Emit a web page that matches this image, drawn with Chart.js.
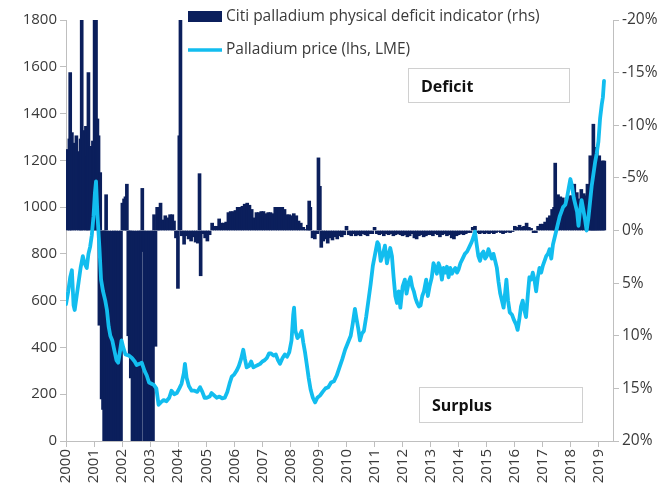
<!DOCTYPE html>
<html><head><meta charset="utf-8">
<script src="https://cdn.jsdelivr.net/npm/chart.js@4.4.1/dist/chart.umd.min.js"></script>
<style>html,body{margin:0;padding:0;background:#fff;}</style>
</head><body>
<canvas id="c" width="665" height="489"></canvas>
<script>
const deficitLabel = 'Citi palladium physical deficit indicator (rhs)';
const priceLabel = 'Palladium price (lhs, LME)';
const boxLabels = ['Deficit', 'Surplus'];
const yearTicks = [2000,2001,2002,2003,2004,2005,2006,2007,2008,2009,2010,2011,2012,2013,2014,2015,2016,2017,2018,2019];
const leftTicks = [0,200,400,600,800,1000,1200,1400,1600,1800];
const rightTicks = [-20,-15,-10,-5,0,5,10,15,20];

const priceDates = [2000.00,2000.08,2000.15,2000.21,2000.27,2000.31,2000.38,2000.45,2000.52,2000.60,2000.66,2000.74,2000.80,2000.86,2000.92,2000.98,
2001.03,2001.07,2001.12,2001.19,2001.25,2001.32,2001.40,2001.46,2001.52,2001.58,2001.65,2001.72,2001.80,2001.86,2001.92,2001.98,
2002.04,2002.12,2002.25,2002.35,2002.45,2002.52,2002.62,2002.70,2002.80,2002.88,2002.96,2003.05,2003.13,2003.22,2003.30,2003.38,2003.48,2003.58,2003.68,2003.76,2003.86,2003.95,
2004.04,2004.12,2004.20,2004.24,2004.30,2004.38,2004.48,2004.58,2004.68,2004.78,2004.86,2004.94,2005.02,2005.12,2005.19,2005.28,2005.37,2005.47,2005.57,2005.66,2005.75,2005.83,2005.91,
2006.00,2006.08,2006.16,2006.24,2006.32,2006.38,2006.44,2006.52,2006.60,2006.68,2006.76,2006.84,2006.92,2007.00,2007.08,2007.16,2007.24,2007.30,2007.40,2007.48,2007.56,2007.63,2007.72,2007.80,2007.88,2007.96,
2008.04,2008.10,2008.13,2008.18,2008.25,2008.32,2008.40,2008.46,2008.52,2008.58,2008.65,2008.72,2008.80,2008.88,2008.96,2009.06,2009.15,2009.25,2009.35,2009.45,2009.55,2009.65,2009.75,2009.85,2009.95,
2010.05,2010.15,2010.22,2010.30,2010.36,2010.42,2010.48,2010.55,2010.62,2010.70,2010.78,2010.86,2010.94,2011.02,2011.10,2011.15,2011.22,2011.30,2011.37,2011.44,2011.50,2011.56,2011.62,2011.68,2011.74,2011.80,2011.86,2011.92,
2012.00,2012.08,2012.14,2012.22,2012.28,2012.34,2012.40,2012.46,2012.52,2012.58,2012.64,2012.70,2012.76,2012.84,2012.90,2012.96,2013.04,2013.10,2013.16,2013.22,2013.28,2013.34,2013.40,2013.46,2013.52,2013.58,2013.64,2013.70,2013.76,2013.82,2013.88,2013.94,
2014.00,2014.06,2014.14,2014.22,2014.30,2014.38,2014.46,2014.52,2014.58,2014.64,2014.70,2014.76,2014.82,2014.88,2014.94,2015.00,2015.06,2015.12,2015.18,2015.24,2015.30,2015.36,2015.42,2015.48,2015.54,2015.60,2015.66,2015.70,2015.76,2015.82,2015.90,2015.96,
2016.04,2016.10,2016.16,2016.22,2016.28,2016.34,2016.40,2016.46,2016.52,2016.58,2016.64,2016.70,2016.76,2016.82,2016.88,2016.94,2017.00,2017.06,2017.12,2017.18,2017.24,2017.30,2017.36,2017.42,2017.48,2017.54,2017.60,2017.66,2017.72,2017.80,2017.86,2017.92,2017.98,
2018.04,2018.10,2018.16,2018.22,2018.27,2018.32,2018.38,2018.44,2018.50,2018.56,2018.62,2018.68,2018.74,2018.80,2018.86,2018.92,2018.98,2019.04,2019.10,2019.14,2019.18];
const priceValues = [585,640,700,730,580,560,620,680,740,790,760,740,800,830,880,960,
1060,1110,970,830,690,640,600,560,490,450,430,390,345,335,380,430,
400,370,365,355,340,325,330,335,300,280,250,245,240,225,155,165,175,170,185,215,200,205,
225,245,290,330,270,235,215,215,210,230,210,185,185,190,205,195,185,190,182,185,210,245,275,
285,300,320,350,390,350,315,320,340,315,320,325,330,340,345,355,375,375,365,370,345,330,355,370,360,380,
430,540,570,470,440,450,470,420,380,330,270,220,185,165,185,195,210,225,230,250,255,280,315,350,390,
420,450,500,565,520,480,430,460,470,530,600,670,750,800,850,840,770,800,835,760,795,825,790,700,620,590,640,570,
660,690,630,680,700,660,640,610,590,575,580,620,640,690,620,660,700,760,740,715,760,740,690,740,720,745,700,740,715,730,740,720,
735,760,780,800,810,830,850,870,895,840,790,770,800,810,780,790,820,800,780,800,770,740,680,630,600,570,640,690,600,550,540,520,
500,475,520,575,600,560,530,620,700,690,720,690,640,700,740,720,750,770,790,800,820,780,840,870,900,930,960,980,1000,1010,1040,1080,1120,
1090,1040,1010,980,920,980,1030,990,950,900,950,1020,1090,1140,1190,1230,1280,1380,1440,1470,1540];

const deficitDates = [2000.04,2000.12,2000.15,2000.21,2000.29,2000.37,2000.46,2000.52,2000.56,2000.62,2000.71,2000.76,2000.80,2000.87,2000.96,
2001.02,2001.07,2001.12,2001.16,2001.19,2001.22,2001.27,2001.32,2001.36,2001.40,2001.43,2001.47,2001.54,2001.62,2001.71,2001.79,2001.87,2001.96,
2002.01,2002.07,2002.12,2002.17,2002.22,2002.27,2002.31,2002.37,2002.44,2002.52,2002.60,2002.67,2002.72,2002.76,2002.81,2002.88,2002.96,
2003.04,2003.10,2003.14,2003.19,2003.25,2003.30,2003.37,2003.46,2003.54,2003.62,2003.71,2003.79,2003.85,2003.92,2003.99,
2004.04,2004.08,2004.13,2004.21,2004.29,2004.37,2004.46,2004.54,2004.62,2004.70,2004.76,2004.80,2004.87,2004.96,
2005.04,2005.12,2005.21,2005.29,2005.37,2005.46,2005.54,2005.62,2005.71,2005.79,2005.87,2005.96,
2006.04,2006.12,2006.21,2006.29,2006.37,2006.46,2006.54,2006.62,2006.71,2006.79,2006.87,2006.96,
2007.04,2007.12,2007.21,2007.29,2007.37,2007.46,2007.54,2007.62,2007.71,2007.79,2007.87,2007.96,
2008.04,2008.12,2008.21,2008.29,2008.37,2008.46,2008.54,2008.62,2008.67,2008.71,2008.79,2008.87,2008.96,
2009.00,2009.05,2009.10,2009.17,2009.25,2009.33,2009.42,2009.50,2009.58,2009.67,2009.75,2009.83,2009.92,
2010.00,2010.08,2010.17,2010.25,2010.33,2010.42,2010.50,2010.58,2010.67,2010.75,2010.83,2010.92,
2011.00,2011.08,2011.17,2011.25,2011.33,2011.42,2011.50,2011.58,2011.67,2011.75,2011.83,2011.92,
2012.00,2012.08,2012.17,2012.25,2012.33,2012.42,2012.50,2012.58,2012.67,2012.75,2012.83,2012.92,
2013.00,2013.08,2013.17,2013.25,2013.33,2013.42,2013.50,2013.58,2013.67,2013.75,2013.83,2013.92,
2014.00,2014.08,2014.17,2014.25,2014.33,2014.42,2014.50,2014.58,2014.67,2014.75,2014.83,2014.92,
2015.00,2015.08,2015.17,2015.25,2015.33,2015.42,2015.50,2015.58,2015.67,2015.75,2015.83,2015.92,
2016.00,2016.08,2016.17,2016.25,2016.33,2016.42,2016.50,2016.58,2016.67,2016.75,2016.83,2016.92,
2017.00,2017.08,2017.17,2017.25,2017.33,2017.40,2017.44,2017.48,2017.54,2017.62,2017.71,2017.79,2017.87,2017.96,
2018.04,2018.12,2018.21,2018.29,2018.37,2018.46,2018.54,2018.59,2018.64,2018.69,2018.73,2018.77,2018.80,2018.84,2018.88,2018.92,2018.96,
2019.01,2019.05,2019.10,2019.15,2019.19];
const deficitValues = [-7.7,-8.7,-15,-9.3,-8.3,-9,-7.5,-8.7,-20,-9.5,-9.9,-7,-15,-8,-8.5,
-20,-20,-10.6,-9,9,-5.5,16,17,20,20,-3.4,20,20,20,20,20,20,20,
-2.6,-3,-3.2,-4.4,10,12,14,20,20,20,20,20,-4,2,20,20,20,
20,20,-1.5,11,-2.2,-1.2,-2.6,-1,-1.4,-1.2,-1.5,-1.5,-0.9,0.7,5.5,
-9,-20,0.5,1.3,0.5,0.8,1,0.6,1.1,1.2,-5.4,4.3,0.3,0.7,
1,0.4,-0.7,-0.4,-0.4,-1.1,-0.7,-0.7,-0.8,-1.7,-1.8,-1.8,
-1.9,-2.2,-2.2,-2.3,-2.5,-2.6,-2.4,-2,-1.2,-1.7,-1.7,-1.8,
-1.8,-1.6,-1.7,-1.7,-1.6,-2.2,-2.2,-2.2,-2.2,-2,-1.5,-1.5,
-1.4,-1.6,-1.4,-0.9,-0.7,-0.3,-0.1,-0.5,-2.8,-2.2,0.7,0.8,0.3,
-6.9,-4.2,1.6,1,0.8,1.2,0.7,0.9,0.6,0.8,0.5,0.6,0.4,
-0.4,0.4,0.5,0.3,0.5,0.4,0.5,0.3,0.4,0.5,0.3,0.3,
-0.3,0.3,0.4,0.3,0.5,0.3,0.4,0.3,0.5,0.4,0.3,0.4,
0.5,0.4,0.6,0.5,0.3,0.7,0.8,0.5,0.4,0.6,0.5,0.4,
0.4,0.5,0.3,0.4,0.6,0.4,0.3,0.5,0.4,0.7,0.8,0.5,
0.4,0.3,0.4,0.3,0.2,0.2,-0.3,-0.4,0.2,0.3,0.2,0.3,
0.2,0.3,0.2,0.3,0.2,0.1,0.2,0.3,0.2,0.1,0.2,0.1,
-0.4,-0.3,-0.5,-0.3,-0.4,-0.7,-0.3,-0.2,0.2,0.2,-0.4,-0.6,
-0.6,-0.8,-1.2,-1.4,-2,-2.2,-6.4,-2.2,-3.4,-3.2,-3.1,-2.8,-2.9,-3.3,
-3.3,-4.4,-3.6,-3.0,-3.9,-3.5,-3.3,-4.4,-3.7,-7.1,-6.0,-4.7,-10.1,-5.8,-6.3,-7.9,-4.7,
-7.1,-5.7,-6.6,-6.6,-6.6];

const NAVY = '#0B1F5C';
const CYAN = '#12BDEF';
const AXIS = '#BFBFBF';
const TXT = '#3A3A3A';
const FONT = "'Open Sans', 'Liberation Sans', sans-serif";

const overlay = {
  id: 'overlay',
  afterDatasetsDraw(chart) {
    const c = chart.ctx;
    c.save();
    c.fillStyle = NAVY;
    c.fillRect(188, 11, 34, 11);
    c.strokeStyle = CYAN; c.lineWidth = 3.5;
    c.beginPath(); c.moveTo(188, 50); c.lineTo(222, 50); c.stroke();
    c.fillStyle = TXT; c.font = '15.5px ' + FONT; c.textBaseline = 'middle'; c.textAlign = 'left';
    c.fillText(deficitLabel, 226, 17);
    c.fillText(priceLabel, 226, 50);
    c.lineWidth = 1; c.strokeStyle = '#D0D0D0';
    c.fillStyle = '#fff';
    c.fillRect(408, 68, 161, 34); c.strokeRect(408.5, 68.5, 161, 34);
    c.fillRect(419, 387, 163, 35); c.strokeRect(419.5, 387.5, 163, 35);
    c.fillStyle = '#111'; c.font = 'bold 16px ' + FONT;
    c.fillText(boxLabels[0], 421, 87);
    c.fillText(boxLabels[1], 432, 406);
    c.restore();
  }
};

new Chart(document.getElementById('c'), {
  data: {
    datasets: [
      { type: 'line', label: priceLabel, yAxisID: 'y', order: 0,
        data: priceDates.map((d, i) => ({ x: d, y: priceValues[i] })),
        borderColor: CYAN, borderWidth: 3.8, pointRadius: 0, tension: 0,
        borderJoinStyle: 'round', borderCapStyle: 'round' },
      { type: 'bar', label: deficitLabel, yAxisID: 'y1', order: 1,
        data: deficitDates.map((d, i) => ({ x: d, y: deficitValues[i] })),
        backgroundColor: NAVY, borderWidth: 0, barThickness: 3 }
    ]
  },
  options: {
    responsive: false, animation: false, devicePixelRatio: 1,
    layout: { padding: { top: 20, left: 0, right: 0, bottom: 0 } },
    plugins: { legend: { display: false }, tooltip: { enabled: false } },
    scales: {
      x: {
        type: 'linear', min: 2000, max: 2019.5, offset: false,
        grid: { display: true, drawOnChartArea: false, drawTicks: true, tickLength: 6, color: AXIS, offset: false },
        border: { display: true, color: AXIS, width: 1 },
        ticks: { autoSkip: false, maxRotation: 90, minRotation: 90, padding: 2, color: TXT,
          font: { family: FONT, size: 15 }, callback: v => String(v) },
        afterBuildTicks: s => { s.ticks = yearTicks.map(v => ({ value: v })); },
        afterFit: s => { s.height = 48; }
      },
      y: {
        position: 'left', min: 0, max: 1800,
        grid: { display: true, drawOnChartArea: false, drawTicks: true, tickLength: 6, color: AXIS },
        border: { display: true, color: AXIS, width: 1 },
        ticks: { padding: 3, color: TXT, font: { family: FONT, size: 15 }, callback: v => String(v) },
        afterBuildTicks: s => { s.ticks = leftTicks.map(v => ({ value: v })); },
        afterFit: s => { s.width = 66; }
      },
      y1: {
        position: 'right', min: -20, max: 20, reverse: true,
        grid: { display: true, drawOnChartArea: false, drawTicks: true, tickLength: 6, color: AXIS },
        border: { display: true, color: AXIS, width: 1 },
        ticks: { padding: 3, color: TXT, font: { family: FONT, size: 15.5 }, callback: v => v + '%' },
        afterBuildTicks: s => { s.ticks = rightTicks.map(v => ({ value: v })); },
        afterFit: s => { s.width = 52; }
      }
    }
  },
  plugins: [overlay]
});
</script>
</body></html>
